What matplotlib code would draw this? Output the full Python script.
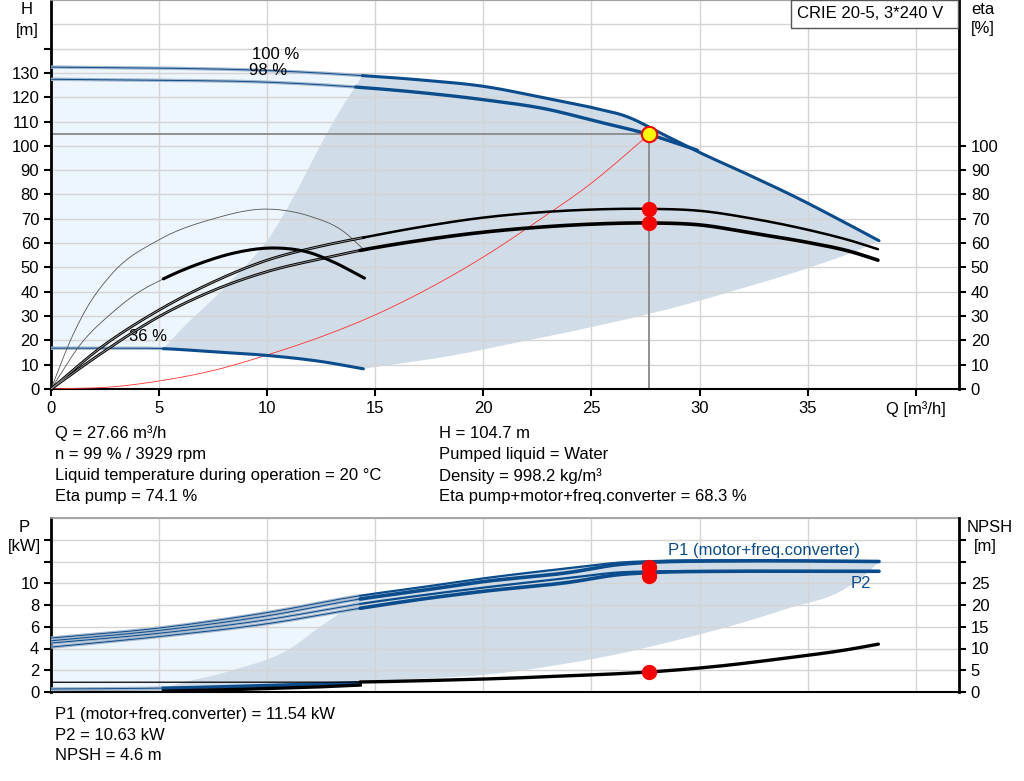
import numpy as np
import matplotlib
matplotlib.use('Agg')
import matplotlib.pyplot as plt
from matplotlib.patches import Rectangle

plt.rcParams['font.family'] = ['Liberation Sans', 'DejaVu Sans']

# ---- data ----
# head curves, H [m] vs Q [m3/h]
h100_q = [0, 5, 10, 14.4, 17, 20, 22.9, 25, 26.65, 28.3, 29.9, 32, 34.7, 36.5, 38.3]
h100 = [132.4, 132.0, 131.0, 128.9, 127.2, 124.5, 119.6, 115.8, 112.0, 104.8, 97.7, 89.2, 77.8, 69.5, 61.0]
h98_q = [0, 5, 10, 14.1, 17, 20, 23.1, 25, 27.66, 29.9]
h98 = [127.4, 127.0, 126.2, 124.2, 122.0, 119.0, 114.8, 110.6, 104.7, 98.2]
h36_q = [0, 2.5, 5.2, 7.5, 10, 12.5, 14.45]
h36 = [16.8, 16.8, 16.6, 15.3, 13.8, 11.3, 8.3]

# system curve
sys_q = [0, 3, 5, 7.5, 10, 12.5, 15, 17.5, 20, 22.5, 25, 27.66]
sys_h = [0, 1.0, 3.3, 7.6, 14.0, 21.5, 30.5, 41.5, 54.3, 69.0, 84.7, 104.7]

# efficiency curves [%]
eta_pump_q = [0, 2.3, 5, 7.5, 10, 12.5, 14.45, 17, 20, 22.5, 25, 27.66, 30, 32.5, 35, 37, 38.25]
eta_pump = [0, 17, 32.5, 44, 53, 58.8, 62.3, 66.5, 70.5, 72.6, 73.8, 74.1, 73.3, 70.0, 65.5, 61.0, 57.5]
eta_tot_q = [0, 2.3, 5, 7.5, 10, 12.5, 14.3, 17, 20, 22.5, 25, 27.66, 30, 32.5, 35, 37, 38.25]
eta_tot = [0, 14.5, 29.8, 40.5, 48.3, 53.6, 57, 61, 64.5, 66.5, 67.8, 68.3, 67.5, 64.0, 60.3, 56.5, 53]
eta36_pump_q = [0, 0.95, 1.57, 2.78, 5.0, 7.43, 10, 12, 13.5, 14.45]
eta36_pump = [0, 21, 32, 47, 61.4, 69.8, 74, 71, 65, 57.5]
eta36_tot_q = [0, 1.42, 2.78, 4, 5.2, 7, 8.5, 10.3, 12, 13.0, 14.5]
eta36_tot = [0, 19, 31, 39.5, 45.3, 52, 56, 58, 56, 52.5, 45.6]

# operating range limits (top chart)
lim_left_q = [5.2, 6.3, 7.5, 8.7, 10, 11.4, 12.45, 13.07, 14.4]
lim_left_h = [16.6, 27, 37, 48, 61, 82, 100, 110, 128.9]
lim_low_q = [14.45, 18.7, 21.5, 24.4, 29.3, 32, 35.0, 37.9, 38.3]
lim_low_h = [8.3, 14, 19, 24.3, 34.6, 41.5, 49.7, 59.3, 61.0]

# power curves [kW]
p_q = [0, 5, 10, 14.3, 17, 20, 24, 26.3, 28, 31, 35, 38.3]
p1_100 = [4.96, 5.88, 7.3, 8.85, 9.6, 10.45, 11.4, 11.9, 12.05, 12.1, 12.05, 12.0]
p1_98 = [4.71, 5.66, 7.0, 8.55, 9.3, 10.15, 11.0, 11.73, 11.95, 12.05, 12.05, 12.0]
p2_100 = [4.5, 5.4, 6.65, 8.1, 8.85, 9.6, 10.5, 11.0, 11.1, 11.1, 11.1, 11.1]
p2_98 = [4.13, 5.1, 6.28, 7.7, 8.5, 9.26, 10.1, 10.8, 11.0, 11.1, 11.1, 11.1]
p36_q = [0, 5.2, 10, 14.3]
p1_36 = [0.28, 0.36, 0.6, 0.86]
p2_36 = [0.15, 0.22, 0.45, 0.72]
plim_left_q = [5.2, 6.0, 8.4, 11.07, 12.45, 13.4, 14.3]
plim_left_p = [0.36, 0.8, 2.0, 4.0, 6.0, 7.3, 8.85]
plim_low_q = [14.3, 17, 20, 23.8, 26, 28.9, 31.5, 34, 36.8, 37.85, 38.3]
plim_low_p = [0.86, 1.2, 1.57, 2.6, 3.4, 4.74, 6.1, 7.63, 9.57, 11.1, 12.0]

# NPSH [m]
npsh_q = [0, 5, 10, 14.3, 18, 21.35, 24, 26, 27.66, 30.6, 34, 36.8, 38.27]
npsh = [2.24, 2.24, 2.24, 2.3, 2.7, 3.2, 3.75, 4.15, 4.6, 5.8, 7.8, 9.7, 11.0]
npsh36_q = [5.2, 8, 10, 12, 14.3]
npsh36 = [0.2, 0.5, 0.8, 1.1, 1.6]

# duty point
op_q, op_h = 27.66, 104.7
op_eta_pump, op_eta_tot = 74.1, 68.3
op_p1, op_p2, op_npsh = 11.54, 10.63, 4.6

x_ticks = [0, 5, 10, 15, 20, 25, 30, 35, 40]
x_labels = ['0', '5', '10', '15', '20', '25', '30', '35', 'Q [m³/h]']

BLUE = '#0B4C8C'
BAND = '#A3B6CB'
LIGHT = '#EDF5FD'
GRAY = '#D0DCE7'
GRID = '#D4D4D4'
FS = 12

W, H = 1024, 781
fig = plt.figure(figsize=(W / 100, H / 100), dpi=100)


def box(x0, y0, x1, y1):
    return [x0 / W, 1 - y1 / H, (x1 - x0) / W, (y1 - y0) / H]


def smooth(q, v, lo=None, hi=None, n=200):
    # cubic Hermite curve through the read points
    q = np.asarray(q, float)
    v = np.asarray(v, float)
    lo = q[0] if lo is None else max(lo, q[0])
    hi = q[-1] if hi is None else min(hi, q[-1])
    h = np.diff(q)
    d = np.diff(v) / h
    m = np.empty_like(v)
    m[0], m[-1] = d[0], d[-1]
    m[1:-1] = (d[:-1] * h[1:] + d[1:] * h[:-1]) / (h[:-1] + h[1:])
    qq = np.linspace(lo, hi, n)
    i = np.clip(np.searchsorted(q, qq, side='right') - 1, 0, len(q) - 2)
    t = (qq - q[i]) / h[i]
    vv = ((2 * t ** 3 - 3 * t ** 2 + 1) * v[i] + (t ** 3 - 2 * t ** 2 + t) * h[i] * m[i]
          + (-2 * t ** 3 + 3 * t ** 2) * v[i + 1] + (t ** 3 - t ** 2) * h[i] * m[i + 1])
    return qq, vv


def thin_blue(a, q, v):
    a.plot(q, v, color=BAND, lw=2.4, zorder=3, solid_capstyle='butt')
    a.plot(q, v, color=BLUE, lw=0.7, zorder=3.1)


def double_black(a, q, v):
    a.plot(q, v, color='black', lw=2.0, zorder=3)
    a.plot(q, v, color='#9C9C9C', lw=0.6, zorder=3.1)


def style_axes(a, twin):
    a.set_xlim(0, 42)
    a.tick_params(labelsize=FS, length=5, width=1.5, colors='black')
    for s in ['left', 'right', 'top', 'bottom']:
        a.spines[s].set_visible(False)
    if twin:
        a.spines['right'].set_visible(True)
        a.spines['right'].set_linewidth(2)
        a.tick_params(axis='x', length=0)
    else:
        a.spines['left'].set_visible(True)
        a.spines['left'].set_linewidth(2)
        a.spines['bottom'].set_visible(True)
        a.spines['bottom'].set_linewidth(1.5)
        a.spines['top'].set_visible(True)
        a.spines['top'].set_color('#9A9A9A')
        a.spines['top'].set_linewidth(1.2)


# ================= top chart: head / efficiency =================
ax = fig.add_axes(box(51, 0, 959, 389))
ax.set_axisbelow('line')
ax.set_ylim(0, 160)
ax.set_xticks(x_ticks)
ax.set_xticklabels(x_labels)
ax.set_yticks(np.arange(0, 150, 10))
ax.set_yticklabels([str(v) if v <= 130 else '' for v in range(0, 150, 10)])
ax.set_yticks(np.arange(0, 170, 10), minor=True)
ax.tick_params(which='minor', length=0)
ax.grid(True, which='both', color=GRID, lw=1)
style_axes(ax, False)

# light blue area (below 100 % curve, above 36 % curve)
qq, top = smooth(h100_q, h100, 0, 14.45)
_, bot = smooth(h36_q, h36, 0, 14.45)
ax.fill_between(qq, bot, top, color=LIGHT, lw=0, zorder=1)
# gray operating area
top_q, top_h = smooth(h100_q, h100, 14.4)
b36_q, b36_h = smooth(h36_q, h36, 5.2)
ll = smooth(lim_left_q, lim_left_h)
lb = smooth(lim_low_q, lim_low_h)
poly_q = np.concatenate([ll[0], top_q, lb[0][::-1], b36_q[::-1]])
poly_h = np.concatenate([ll[1], top_h, lb[1][::-1], b36_h[::-1]])
ax.fill(poly_q, poly_h, color=GRAY, lw=0, zorder=1.1)

# head curves
thin_blue(ax, *smooth(h100_q, h100, hi=14.4))
thin_blue(ax, *smooth(h98_q, h98, hi=14.1))
thin_blue(ax, *smooth(h36_q, h36, hi=5.2))
ax.plot(*smooth(h100_q, h100, 14.4), color=BLUE, lw=2.2, zorder=4, solid_capstyle='round')
ax.plot(*smooth(h98_q, h98, 14.1), color=BLUE, lw=2.4, zorder=4, solid_capstyle='round')
ax.plot(*smooth(h36_q, h36, 5.2), color=BLUE, lw=2.2, zorder=4, solid_capstyle='round')

# system curve and duty lines
ax.plot(*smooth(sys_q, sys_h), color='#FF3030', lw=0.6, zorder=3)
ax.plot([0, op_q], [op_h, op_h], color='#8F8F8F', lw=1.4, zorder=2.5)
ax.plot([op_q, op_q], [0, op_h], color='#8F8F8F', lw=1.4, zorder=2.5)

ax.text(10.4, 137.6, '100 %', fontsize=FS, ha='center', va='center', zorder=6)
ax.text(10.05, 131.2, '98 %', fontsize=FS, ha='center', va='center', zorder=6)
ax.text(4.5, 21.6, '36 %', fontsize=FS, ha='center', va='center', zorder=6)

# efficiency axis
ax_eta = ax.twinx()
ax_eta.set_ylim(0, 160)
ax_eta.set_yticks(np.arange(0, 110, 10))
style_axes(ax_eta, True)

ax_eta.plot(*smooth(eta36_pump_q, eta36_pump), color='#555555', lw=0.6, zorder=3)
ax_eta.plot(*smooth(eta36_tot_q, eta36_tot, hi=5.2), color='#555555', lw=0.6, zorder=3)
ax_eta.plot(*smooth(eta36_tot_q, eta36_tot, 5.2), color='black', lw=2.2, zorder=4,
            solid_capstyle='round')
double_black(ax_eta, *smooth(eta_pump_q, eta_pump, hi=14.45))
double_black(ax_eta, *smooth(eta_tot_q, eta_tot, hi=14.3))
ax_eta.plot(*smooth(eta_pump_q, eta_pump, 14.45), color='black', lw=1.8, zorder=4,
            solid_capstyle='round')
ax_eta.plot(*smooth(eta_tot_q, eta_tot, 14.3), color='black', lw=2.6, zorder=4,
            solid_capstyle='round')
ax_eta.plot([op_q], [op_eta_pump], 'o', color='#FF0000', ms=10, zorder=6)
ax_eta.plot([op_q], [op_eta_tot], 'o', color='#FF0000', ms=10, zorder=6)
ax_eta.plot([op_q], [op_h], 'o', mfc='#FFFF00', mec='#FF0000', mew=1.5, ms=11, zorder=7)

# ================= bottom chart: power / NPSH =================
axb = fig.add_axes(box(51, 518, 959, 692))
axb.set_axisbelow('line')
axb.set_ylim(0, 16)
axb.set_xticks(x_ticks)
axb.set_xticklabels([])
axb.set_yticks(np.arange(0, 16, 2))
axb.set_yticklabels([str(v) if v <= 10 else '' for v in range(0, 16, 2)])
axb.set_yticks(np.arange(0, 18, 2), minor=True)
axb.tick_params(which='minor', length=0)
axb.grid(True, which='both', color=GRID, lw=1)
style_axes(axb, False)
axb.tick_params(axis='x', length=0)

qq, top = smooth(p_q, p1_100, 0, 14.3)
_, bot = smooth(p36_q, p1_36, 0, 14.3)
axb.fill_between(qq, bot, top, color=LIGHT, lw=0, zorder=1)
ptop_q, ptop_p = smooth(p_q, p1_100, 14.3)
pb_q, pb_p = smooth(p36_q, p1_36, 5.2)
pl = smooth(plim_left_q, plim_left_p)
plb = smooth(plim_low_q, plim_low_p)
poly_q = np.concatenate([pl[0], ptop_q, plb[0][::-1], pb_q[::-1]])
poly_p = np.concatenate([pl[1], ptop_p, plb[1][::-1], pb_p[::-1]])
axb.fill(poly_q, poly_p, color=GRAY, lw=0, zorder=1.1)

for vals, thick in [(p1_100, 1.6), (p1_98, 2.6), (p2_100, 1.6), (p2_98, 2.6)]:
    thin_blue(axb, *smooth(p_q, vals, hi=14.3))
    axb.plot(*smooth(p_q, vals, 14.3), color=BLUE, lw=thick, zorder=4, solid_capstyle='round')
axb.plot(*smooth(p36_q, p2_36, hi=5.2), color='#8FA3BA', lw=1.2, zorder=3)
axb.plot(*smooth(p36_q, p2_36, 5.2), color='#5F7FA3', lw=1.6, zorder=3)
thin_blue(axb, *smooth(p36_q, p1_36, hi=5.2))
axb.plot(*smooth(p36_q, p1_36, 5.2), color=BLUE, lw=2.4, zorder=4)
axb.plot([op_q], [op_p1], 'o', color='#FF0000', ms=10, zorder=6)
axb.plot([op_q], [op_p2], 'o', color='#FF0000', ms=10, zorder=6)

axb.text(0.68, 0.816, 'P1 (motor+freq.converter)', transform=axb.transAxes,
         fontsize=FS, color=BLUE, ha='left', va='center')
axb.text(0.881, 0.626, 'P2', transform=axb.transAxes, fontsize=FS, color=BLUE,
         ha='left', va='center')

ax_np = axb.twinx()
ax_np.set_ylim(0, 40)
ax_np.set_yticks(np.arange(0, 40, 5))
ax_np.set_yticklabels([str(v) if v <= 25 else '' for v in range(0, 40, 5)])
style_axes(ax_np, True)
ax_np.plot(*smooth(npsh_q, npsh, hi=14.3), color='black', lw=0.9, zorder=3)
ax_np.plot(*smooth(npsh_q, npsh, 14.3), color='black', lw=2.4, zorder=4, solid_capstyle='round')
ax_np.plot(*smooth(npsh36_q, npsh36), color='black', lw=2.4, zorder=4)
ax_np.plot([op_q], [op_npsh], 'o', color='#FF0000', ms=10, zorder=6)

# ================= texts =================
def ftext(x, y, s, **kw):
    kw.setdefault('fontsize', FS)
    kw.setdefault('va', 'center')
    fig.text(x / W, 1 - y / H, s, **kw)


ftext(27, 10, 'H', ha='center')
ftext(27, 30, '[m]', ha='center')
ftext(983, 10, 'eta', ha='center')
ftext(983, 29, '[%]', ha='center')
ftext(24, 527, 'P', ha='center')
ftext(24, 547, '[kW]', ha='center')
ftext(990, 527, 'NPSH', ha='center')
ftext(985, 547, '[m]', ha='center')

fig.patches.append(Rectangle((791 / W, 1 - 28 / H), 167 / W, 28 / H,
                             transform=fig.transFigure, fill=True, fc='white',
                             ec='#555555', lw=1, zorder=10))
ftext(797, 14, 'CRIE 20-5, 3*240 V', ha='left', zorder=11)

left_info = ['Q = 27.66 m³/h', 'n = 99 % / 3929 rpm',
             'Liquid temperature during operation = 20 °C', 'Eta pump = 74.1 %']
right_info = ['H = 104.7 m', 'Pumped liquid = Water', 'Density = 998.2 kg/m³',
              'Eta pump+motor+freq.converter = 68.3 %']
for i, s in enumerate(left_info):
    ftext(55, 433 + 21.3 * i, s, ha='left')
for i, s in enumerate(right_info):
    ftext(439, 433 + 21.3 * i, s, ha='left')
bottom_info = ['P1 (motor+freq.converter) = 11.54 kW', 'P2 = 10.63 kW', 'NPSH = 4.6 m']
for i, s in enumerate(bottom_info):
    ftext(55, 714 + 21 * i, s, ha='left')

fig.savefig('out.png', dpi=100)
